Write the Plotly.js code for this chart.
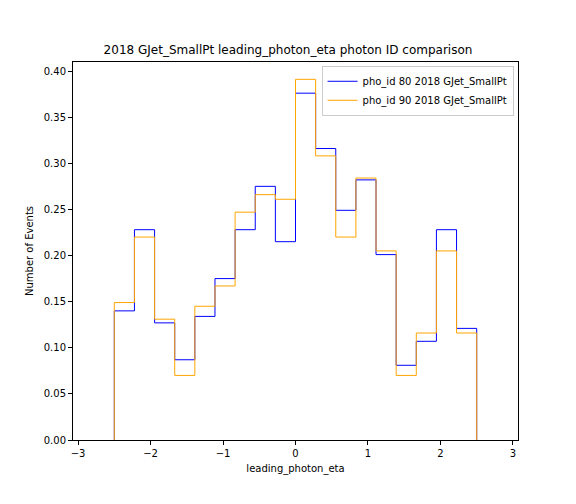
<!DOCTYPE html>
<html><head><meta charset="utf-8">
<script src="https://cdn.plot.ly/plotly-3.0.1.min.js"></script>
<style>body{margin:0}#graph1{width:576px;height:504px}</style>
</head><body><div id="graph1"></div>
<script>
// histogram: 18 bins from -2.5 to 2.5
const binLow = -2.5, binHigh = 2.5, nBins = 18;
const pho80 = [0.140, 0.228, 0.127, 0.087, 0.134, 0.175, 0.228, 0.275, 0.215,
               0.376, 0.316, 0.249, 0.282, 0.201, 0.081, 0.107, 0.228, 0.121];
const pho90 = [0.149, 0.220, 0.131, 0.070, 0.145, 0.167, 0.247, 0.266, 0.261,
               0.391, 0.308, 0.220, 0.284, 0.205, 0.070, 0.116, 0.205, 0.116];

function stepTrace(vals, name, color) {
  const w = (binHigh - binLow) / nBins;
  const x = [binLow], y = [0];
  vals.forEach((v, i) => { x.push(binLow + i * w); y.push(v); });
  x.push(binHigh); y.push(0);
  return { x, y, name, mode: 'lines', line: { shape: 'hv', color, width: 1 } };
}

const data = [
  stepTrace(pho80, 'pho_id 80 2018 GJet_SmallPt', 'blue'),
  stepTrace(pho90, 'pho_id 90 2018 GJet_SmallPt', 'orange')
];

const axisStyle = {
  showgrid: false, zeroline: false, showline: true, linecolor: 'black', linewidth: 1,
  mirror: true, ticks: 'outside', ticklen: 4, tickcolor: 'black'
};

const layout = {
  width: 576, height: 504,
  paper_bgcolor: '#fff', plot_bgcolor: '#fff',
  font: { family: 'DejaVu Sans', size: 10, color: 'black' },
  margin: { l: 73, r: 58, t: 62, b: 64 },
  title: { text: '2018 GJet_SmallPt leading_photon_eta photon ID comparison', font: { size: 12 }, x: 0.5, y: 0.902, yanchor: 'middle' },
  xaxis: Object.assign({ range: [-3.07, 3.07], dtick: 1, title: { text: 'leading_photon_eta', standoff: 6, font: { size: 10 } } }, axisStyle),
  yaxis: Object.assign({ range: [0, 0.4098], dtick: 0.05, tickformat: '.2f', title: { text: 'Number of Events', standoff: 8, font: { size: 10 } } }, axisStyle),
  legend: { x: 0.99, y: 0.99, xanchor: 'right', yanchor: 'top', bordercolor: '#ccc', borderwidth: 1, bgcolor: 'rgba(255,255,255,0.8)' },
  showlegend: true
};

Plotly.newPlot('graph1', data, layout, { displayModeBar: false });
</script></body></html>
